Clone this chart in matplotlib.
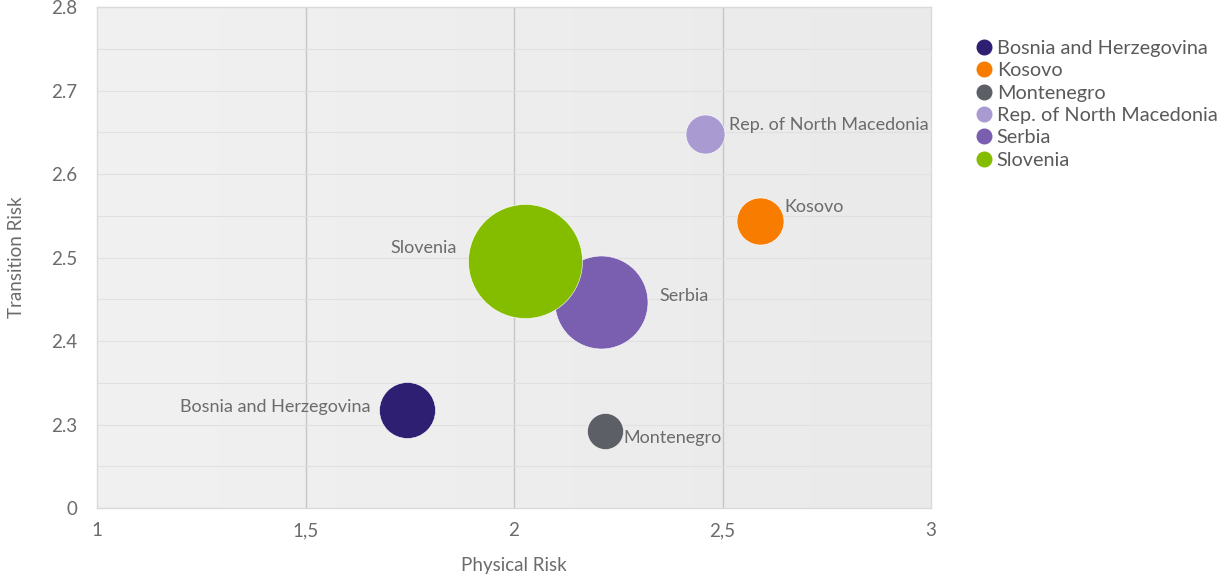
import numpy as np
import matplotlib
matplotlib.use("Agg")
import matplotlib.pyplot as plt
from matplotlib.lines import Line2D

plt.rcParams["font.family"] = ["Lato", "DejaVu Sans"]

countries = ["Bosnia and Herzegovina", "Kosovo", "Montenegro",
             "Rep. of North Macedonia", "Serbia", "Slovenia"]
physical_risk = [1.743, 2.589, 2.218, 2.459, 2.209, 2.026]
transition_risk = [2.317, 2.544, 2.292, 2.648, 2.447, 2.496]
bubble_value = [24.1, 17.0, 10.0, 11.7, 66.5, 100.0]
colors = ["#2e1f73", "#f77c00", "#5d5f66", "#a99bd1", "#7a5fb0", "#84bd00"]

x_ticks = [1, 1.5, 2, 2.5, 3]
x_tick_labels = ["1", "1,5", "2", "2,5", "3"]
y_ticks = [2.2, 2.3, 2.4, 2.5, 2.6, 2.7, 2.8]
y_tick_labels = ["0", "2.3", "2.4", "2.5", "2.6", "2.7", "2.8"]

# label placement (pixel offsets from bubble centre, alignment)
label_pos = {
    "Bosnia and Herzegovina": (-36, 3, "right"),
    "Kosovo": (25, 14, "left"),
    "Montenegro": (18, -7, "left"),
    "Rep. of North Macedonia": (24, 9, "left"),
    "Serbia": (58, 6, "left"),
    "Slovenia": (-68, 13, "right"),
}

txt = "#6b6b6b"
fig = plt.figure(figsize=(12.23, 5.78), dpi=100)
ax = fig.add_axes([97 / 1223, 1 - 508 / 578, (931 - 97) / 1223, (508 - 7) / 578])

# light background with a slight left-to-right gradient
grad = np.linspace(0, 1, 256).reshape(1, -1)
ax.imshow(grad, extent=[1, 3, 2.2, 2.8], aspect="auto", zorder=0,
          cmap=matplotlib.colors.LinearSegmentedColormap.from_list("bg", ["#f1f1f1", "#eaeaea"]))

ax.set_xlim(1, 3)
ax.set_ylim(2.2, 2.8)
ax.set_xticks(x_ticks)
ax.set_xticklabels(x_tick_labels)
ax.set_yticks(y_ticks)
ax.set_yticklabels(y_tick_labels)
ax.set_yticks(np.arange(2.25, 2.8, 0.1), minor=True)
ax.tick_params(length=0, colors=txt, labelsize=13.5)
ax.tick_params(axis="x", pad=10)
ax.tick_params(axis="y", pad=14)
ax.tick_params(which="minor", length=0)

for v in [1.5, 2, 2.5]:
    ax.axvline(v, color="#c6c6c6", lw=1, zorder=1)
ax.grid(axis="y", which="both", color="#e0e0e0", lw=0.8, zorder=1)

for s in ax.spines.values():
    s.set_color("#dadada")
    s.set_linewidth(1)

sizes = [v * 67.4 for v in bubble_value]
for i, c in enumerate(countries):
    ax.scatter(physical_risk[i], transition_risk[i], s=sizes[i], color=colors[i],
               edgecolors="white", linewidths=0.4, zorder=3 + i)
    dx, dy, ha = label_pos[c]
    ax.annotate(c, (physical_risk[i], transition_risk[i]), xytext=(dx, dy),
                textcoords="offset pixels", ha=ha, va="center",
                fontsize=13, color=txt, zorder=10)

ax.set_xlabel("Physical Risk", color=txt, fontsize=13.5)
ax.set_ylabel("Transition Risk", color=txt, fontsize=13.5)
ax.xaxis.set_label_coords(0.5, -0.098)
ax.yaxis.set_label_coords(-0.086, 0.5)

handles = [Line2D([0], [0], marker="o", ls="", markersize=10.5,
                  markerfacecolor=colors[i], markeredgecolor=colors[i])
           for i in range(len(countries))]
fig.legend(handles, countries, loc="upper left",
           bbox_to_anchor=(964 / 1223, 1 - 32 / 578), frameon=False,
           fontsize=14.3, labelcolor="#5a5a5a", handletextpad=0.05,
           labelspacing=0.27, handlelength=1.2, borderaxespad=0)

fig.savefig("out.png", dpi=100)
